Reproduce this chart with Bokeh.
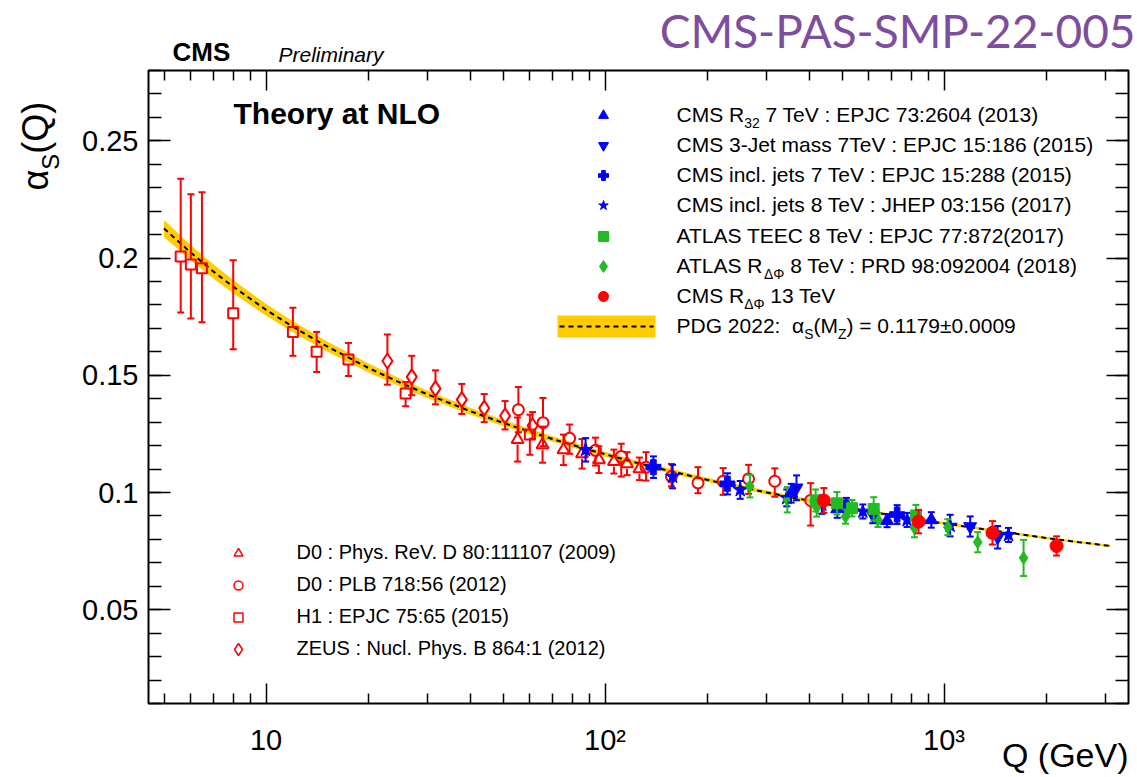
import math
from bokeh.plotting import figure
from bokeh.models import Label, LogAxis, LinearAxis, FixedTicker, CustomJSTickFormatter
from bokeh.embed import file_html
from bokeh.resources import INLINE

# ---------------- alpha_s(Q) determinations ----------------
# D0 : Phys. Rev. D 80:111107 (2009)  -- open triangles
q_d0_2009 = [55.2, 65.4, 75.4, 85.5, 95.9, 106.2, 116.1, 126.3]
a_d0_2009 = [0.1226, 0.1204, 0.1182, 0.1165, 0.1140, 0.1132, 0.1123, 0.1101]
up_d0_2009 = [0.0094, 0.0077, 0.0065, 0.0063, 0.0057, 0.0051, 0.0049, 0.0048]
dn_d0_2009 = [0.0094, 0.0077, 0.0065, 0.0063, 0.0057, 0.0051, 0.0049, 0.0048]

# D0 : PLB 718:56 (2012)  -- open circles
q_d0_2012 = [55.5, 65.6, 78.6, 93.7, 111.6, 132.1, 157.0, 188.0, 223.0, 265.0, 316.7, 404.0]
a_d0_2012 = [0.1353, 0.1298, 0.1231, 0.1180, 0.1154, 0.1108, 0.1068, 0.1041, 0.1048, 0.1058, 0.1048, 0.0966]
up_d0_2012 = [0.0097, 0.0105, 0.0059, 0.0054, 0.0054, 0.0064, 0.0054, 0.0067, 0.0056, 0.0060, 0.0055, 0.0074]
dn_d0_2012 = [0.0096, 0.0100, 0.0066, 0.0065, 0.0086, 0.0057, 0.0042, 0.0044, 0.0058, 0.0064, 0.0066, 0.0107]

# H1 : EPJC 75:65 (2015)  -- open squares
q_h1 = [5.6, 6.0, 6.47, 8.0, 12.0, 14.1, 17.5, 25.8, 60.0]
a_h1 = [0.2007, 0.1973, 0.1956, 0.1765, 0.1685, 0.1600, 0.1567, 0.1422, 0.1247]
up_h1 = [0.0331, 0.0299, 0.0325, 0.0226, 0.0103, 0.0085, 0.0071, 0.0049, 0.0085]
dn_h1 = [0.0239, 0.0231, 0.0230, 0.0154, 0.0102, 0.0086, 0.0070, 0.0054, 0.0086]

# ZEUS : Nucl. Phys. B 864:1 (2012)  -- open diamonds
q_zeus = [22.8, 26.9, 31.6, 37.8, 44.0, 50.7, 61.1]
a_zeus = [0.1561, 0.1493, 0.1443, 0.1396, 0.1360, 0.1327, 0.1285]
up_zeus = [0.0113, 0.0090, 0.0078, 0.0067, 0.0060, 0.0063, 0.0058]
dn_zeus = [0.0101, 0.0078, 0.0067, 0.0061, 0.0060, 0.0058, 0.0055]

# CMS R32 7 TeV
q_cms_r32 = [354.0, 484.0, 679.0, 917.0]
a_cms_r32 = [0.0997, 0.0930, 0.0880, 0.0883]
e_cms_r32 = [0.0040, 0.0038, 0.0028, 0.0033]

# CMS 3-jet mass 7 TeV
q_cms_m3j = [367.0, 616.0, 1194.0, 1439.0]
a_cms_m3j = [0.1020, 0.0905, 0.0855, 0.0809]
e_cms_m3j = [0.0053, 0.0036, 0.0043, 0.0048]

# CMS inclusive jets 7 TeV
q_cms_ij7 = [138.9, 229.6, 515.0, 727.0]
a_cms_ij7 = [0.1108, 0.1037, 0.0937, 0.0906]
e_cms_ij7 = [0.0046, 0.0045, 0.0040, 0.0040]

# CMS inclusive jets 8 TeV
q_cms_ij8 = [87.6, 158.2, 250.4, 343.5, 436.0, 576.0, 778.0, 1042.0, 1549.0]
a_cms_ij8 = [0.1182, 0.1068, 0.1011, 0.0977, 0.0949, 0.0919, 0.0883, 0.0859, 0.0819]
e_cms_ij8 = [0.0050, 0.0050, 0.0038, 0.0036, 0.0040, 0.0030, 0.0030, 0.0046, 0.0030]

# ATLAS TEEC 8 TeV
q_atlas_teec = [418.0, 483.0, 535.0, 620.0, 826.0]
a_atlas_teec = [0.0966, 0.0954, 0.0933, 0.0930, 0.0902]
e_atlas_teec = [0.0047, 0.0048, 0.0035, 0.0050, 0.0045]

# ATLAS R_dphi 8 TeV
q_atlas_rdphi = [267.4, 344.8, 421.0, 512.0, 638.0, 818.0, 1026.0, 1257.0, 1716.0]
a_atlas_rdphi = [0.1027, 0.0969, 0.0937, 0.0897, 0.0883, 0.0849, 0.0852, 0.0788, 0.0721]
e_atlas_rdphi = [0.0048, 0.0054, 0.0040, 0.0030, 0.0030, 0.0040, 0.0034, 0.0043, 0.0077]

# CMS R_dphi 13 TeV
q_cms_rdphi = [442.0, 841.0, 1389.0, 2147.0]
a_cms_rdphi = [0.0966, 0.0876, 0.0828, 0.0772]
e_cms_rdphi = [0.0053, 0.0050, 0.0050, 0.0041]

# PDG 2022 running coupling and its band
q_pdg = [5, 6, 7, 8, 10, 12, 15, 20, 25, 30, 40, 50, 70, 91.19, 120, 150, 200, 300,
         400, 500, 700, 1000, 1500, 2000, 2500, 3100]
a_pdg = [0.2126, 0.2023, 0.1942, 0.1878, 0.1779, 0.1707, 0.1626, 0.1532, 0.1467, 0.1418,
         0.1347, 0.1297, 0.1228, 0.1179, 0.1132, 0.1097, 0.1054, 0.1000, 0.0965, 0.0939,
         0.0903, 0.0868, 0.0831, 0.0806, 0.0788, 0.0772]
w_pdg = [0.0036, 0.0032, 0.0030, 0.0028, 0.0025, 0.0023, 0.0021, 0.0019, 0.0017, 0.0016,
         0.0014, 0.0013, 0.0012, 0.0011, 0.0010, 0.00095, 0.0009, 0.0008, 0.00075, 0.0007,
         0.00065, 0.0006, 0.00055, 0.0005, 0.0005, 0.00047]

# ---------------- page geometry ----------------
FONT = "Liberation Sans"
W, H = 1137, 777
BOX_L, BOX_R, BOX_T, BOX_B = 148, 1128, 70, 703      # plotting box on the canvas (px)
X_BOX = (4.5, 3500.0)
Y_BOX = (0.01, 0.28)

LX0, LX1 = math.log10(X_BOX[0]), math.log10(X_BOX[1])
LOG_PER_PX = (LX1 - LX0) / (BOX_R - BOX_L)
DY_PER_PX = (Y_BOX[1] - Y_BOX[0]) / (BOX_B - BOX_T)

# the canvas-wide ranges keep the box at its place, with room for the texts around it
x_full = (10 ** (LX0 - BOX_L * LOG_PER_PX), 10 ** (LX1 + (W - BOX_R) * LOG_PER_PX))
y_full = (Y_BOX[0] - (H - BOX_B) * DY_PER_PX, Y_BOX[1] + BOX_T * DY_PER_PX)

RED, BLUE, GREEN, BAND = "#ff0000", "#0000ff", "#22bb22", "#ffcc00"

p = figure(width=W, height=H, x_axis_type="log", x_range=x_full, y_range=y_full,
           x_axis_location=None, y_axis_location=None,
           output_backend="svg", toolbar_location=None,
           min_border=0, min_border_left=0, min_border_right=0, min_border_top=0, min_border_bottom=0)
p.xgrid.visible = False
p.ygrid.visible = False
p.outline_line_color = None
p.background_fill_color = "white"
p.border_fill_color = "white"


def at(X, Y):
    """canvas pixel (from top-left) -> data coordinates"""
    return 10 ** (LX0 + (X - BOX_L) * LOG_PER_PX), Y_BOX[0] + (BOX_B - Y) * DY_PER_PX


# ---------------- axes ----------------
x_major = [10, 100, 1000]
x_minor = [m * 10 ** k for k in range(0, 4) for m in range(2, 10) if X_BOX[0] <= m * 10 ** k <= X_BOX[1]]
y_major = [0.05, 0.10, 0.15, 0.20, 0.25]
y_minor = [round(0.01 * i, 2) for i in range(1, 29)]

x_fmt = CustomJSTickFormatter(code="""
    const e = Math.round(Math.log10(tick));
    return e == 1 ? "10" : "10" + ["\u2070","\u00b9","\u00b2","\u00b3","\u2074"][e];
""")
y_fmt = CustomJSTickFormatter(code="return String(Math.round(tick * 100) / 100);")
blank_fmt = CustomJSTickFormatter(code="return '';")


def style_axis(ax, major, minor, labels):
    ax.axis_line_color = None
    ax.major_tick_in = major
    ax.major_tick_out = 0
    ax.minor_tick_in = minor
    ax.minor_tick_out = 0
    ax.major_tick_line_color = "black"
    ax.minor_tick_line_color = "black"
    ax.major_tick_line_width = 1.5
    ax.minor_tick_line_width = 1.5
    ax.major_label_text_font = FONT
    ax.major_label_text_color = "black"
    ax.axis_label = None
    if not labels:
        ax.major_label_text_font_size = "0px"
        ax.major_label_standoff = 0


xb = LogAxis(fixed_location=Y_BOX[0], ticker=FixedTicker(ticks=x_major, minor_ticks=x_minor), formatter=x_fmt)
style_axis(xb, 20, 10, True)
xb.major_label_text_font_size = "29px"
xb.major_label_standoff = 20
p.add_layout(xb, "below")

xt = LogAxis(fixed_location=Y_BOX[1], ticker=FixedTicker(ticks=x_major, minor_ticks=x_minor), formatter=blank_fmt)
style_axis(xt, 20, 10, False)
p.add_layout(xt, "above")

yl = LinearAxis(fixed_location=X_BOX[0], ticker=FixedTicker(ticks=y_major, minor_ticks=y_minor), formatter=y_fmt)
style_axis(yl, 22, 13, True)
yl.major_label_text_font_size = "29px"
yl.major_label_standoff = 10
p.add_layout(yl, "left")

yr = LinearAxis(fixed_location=X_BOX[1], ticker=FixedTicker(ticks=y_major, minor_ticks=y_minor), formatter=blank_fmt)
style_axis(yr, 22, 13, False)
p.add_layout(yr, "right")

# frame around the plotting box
p.quad(left=[X_BOX[0]], right=[X_BOX[1]], bottom=[Y_BOX[0]], top=[Y_BOX[1]],
       fill_color=None, line_color="black", line_width=2)

# Arial / Liberation Sans advance widths (1/1000 em)
ADV = {" ": 278, "(": 333, ")": 333, "-": 333, ".": 278, ":": 278, "=": 584, "\u00b1": 549,
       "\u03b1": 578, "\u0394": 668, "\u03a6": 797}
ADV.update({d: 556 for d in "0123456789"})
ADV.update(dict(zip("ABCDEFGHIJKLMNOPQRSTUVWXYZ",
                    [667, 667, 722, 722, 667, 611, 778, 722, 278, 500, 667, 556, 833,
                     722, 778, 667, 778, 722, 667, 611, 722, 667, 944, 667, 667, 611])))
ADV.update(dict(zip("abcdefghijklmnopqrstuvwxyz",
                    [556, 556, 500, 556, 556, 278, 556, 556, 222, 222, 500, 222, 833,
                     556, 556, 556, 556, 333, 500, 278, 556, 500, 722, 500, 500, 500])))

BASE_FIX = 0.43   # raise so that the glyph baseline sits on the requested line


def text_width(s, size):
    return sum(ADV.get(c, 556) for c in s) * size / 1000.0


def rich_text(parts, X, Y, size, color="black", rotated=False, style="normal", font=FONT,
              align="left"):
    """Text made of (string, is_subscript) pieces; (X, Y) is the baseline start on the canvas."""
    pos = 0.0
    for txt, sub in parts:
        fs = size * 0.66 if sub else size
        shift = (-0.28 * size if sub else 0.0) + BASE_FIX * fs
        lead = len(txt) - len(txt.lstrip(" "))
        body = txt.strip(" ")
        trail = len(txt) - lead - len(body)
        pos += text_width(" " * lead, fs)
        if rotated:
            x, y = X - shift, (H - Y) + pos
        else:
            x, y = X + pos, (H - Y) + shift
        p.add_layout(Label(x=x, y=y, x_units="screen", y_units="screen", text=body,
                           angle=math.pi / 2 if rotated else 0.0,
                           text_font=font, text_font_size=f"{fs:.1f}px", text_font_style=style,
                           text_color=color, text_align=align, text_baseline="alphabetic"))
        pos += text_width(body, fs) + text_width(" " * trail, fs)


# ---------------- theory band ----------------
p.varea(x=q_pdg, y1=[a - w for a, w in zip(a_pdg, w_pdg)], y2=[a + w for a, w in zip(a_pdg, w_pdg)],
        fill_color=BAND)
p.line(q_pdg, a_pdg, line_color="black", line_width=2, line_dash="5 4")


# ---------------- data points ----------------
def draw_series(q, a, up, dn, marker, color, size, filled, gap_px=0.0):
    gap = 0.0 if filled else gap_px * DY_PER_PX
    lo_end = [ai - min(gap, d) for ai, d in zip(a, dn)]
    hi_end = [ai + min(gap, u) for ai, u in zip(a, up)]
    lows = [ai - d for ai, d in zip(a, dn)]
    highs = [ai + u for ai, u in zip(a, up)]
    p.segment(x0=q, y0=lows, x1=q, y1=lo_end, line_color=color, line_width=2)
    p.segment(x0=q, y0=hi_end, x1=q, y1=highs, line_color=color, line_width=2)
    p.scatter(q + q, lows + highs, marker="dash", size=7, line_color=color, line_width=2)
    p.scatter(q, a, marker=marker, size=size, line_color=color, line_width=2 if not filled else 1,
              fill_color=color if filled else None)


draw_series(q_h1, a_h1, up_h1, dn_h1, "square", RED, 10, False, 5)
draw_series(q_zeus, a_zeus, up_zeus, dn_zeus, "diamond", RED, 15, False, 7)
draw_series(q_d0_2009, a_d0_2009, up_d0_2009, dn_d0_2009, "triangle", RED, 12, False, 5)
draw_series(q_d0_2012, a_d0_2012, up_d0_2012, dn_d0_2012, "circle", RED, 11, False, 5.5)
draw_series(q_cms_ij8, a_cms_ij8, e_cms_ij8, e_cms_ij8, "star", BLUE, 15, True)
draw_series(q_cms_ij7, a_cms_ij7, e_cms_ij7, e_cms_ij7, "plus", BLUE, 15, True)
draw_series(q_atlas_rdphi, a_atlas_rdphi, e_atlas_rdphi, e_atlas_rdphi, "diamond", GREEN, 13, True)
draw_series(q_cms_r32, a_cms_r32, e_cms_r32, e_cms_r32, "triangle", BLUE, 13, True)
draw_series(q_cms_m3j, a_cms_m3j, e_cms_m3j, e_cms_m3j, "inverted_triangle", BLUE, 13, True)
draw_series(q_atlas_teec, a_atlas_teec, e_atlas_teec, e_atlas_teec, "square", GREEN, 11, True)
draw_series(q_cms_rdphi, a_cms_rdphi, e_cms_rdphi, e_cms_rdphi, "circle", RED, 13, True)

# ---------------- legends ----------------
top_legend = [
    ("triangle", BLUE, [("CMS R", 0), ("32", 1), (" 7 TeV : EPJC 73:2604 (2013)", 0)]),
    ("inverted_triangle", BLUE, [("CMS 3-Jet mass 7TeV : EPJC 15:186 (2015)", 0)]),
    ("plus", BLUE, [("CMS incl. jets 7 TeV : EPJC 15:288 (2015)", 0)]),
    ("star", BLUE, [("CMS incl. jets 8 TeV : JHEP 03:156 (2017)", 0)]),
    ("square", GREEN, [("ATLAS TEEC 8 TeV : EPJC 77:872(2017)", 0)]),
    ("diamond", GREEN, [("ATLAS R", 0), ("\u0394\u03a6", 1), (" 8 TeV : PRD 98:092004 (2018)", 0)]),
    ("circle", RED, [("CMS R", 0), ("\u0394\u03a6", 1), (" 13 TeV", 0)]),
]
TOP_SIZE = 21
top_rows = [115, 145, 175, 205, 236, 266, 296]
for (marker, color, parts), Y in zip(top_legend, top_rows):
    mx, my = at(603, Y)
    p.scatter([mx], [my], marker=marker, size=10 if marker != "diamond" else 12,
              fill_color=color, line_color=color)
    rich_text(parts, 676, Y + 0.36 * TOP_SIZE, TOP_SIZE)

# PDG entry
bx0, by0 = at(557, 337)
bx1, by1 = at(655, 315)
p.quad(left=[bx0], right=[bx1], bottom=[by0], top=[by1], fill_color=BAND, line_color=None)
lx0, ly = at(559, 326)
lx1, _ = at(653, 326)
p.line([lx0, lx1], [ly, ly], line_color="black", line_width=2, line_dash="5 4")
rich_text([("PDG 2022:", 0), ("  \u03b1", 0), ("S", 1), ("(M", 0), ("Z", 1), (") = 0.1179\u00b10.0009", 0)],
          676, 326 + 0.36 * TOP_SIZE, TOP_SIZE)

bottom_legend = [
    ("triangle", "D0 : Phys. ReV. D 80:111107 (2009)"),
    ("circle", "D0 : PLB 718:56 (2012)"),
    ("square", "H1 : EPJC 75:65 (2015)"),
    ("diamond", "ZEUS : Nucl. Phys. B 864:1 (2012)"),
]
BOT_SIZE = 20
bottom_rows = [553, 585, 617, 649]
for (marker, label), Y in zip(bottom_legend, bottom_rows):
    mx, my = at(238, Y)
    p.scatter([mx], [my], marker=marker, size=9 if marker != "diamond" else 12,
              fill_color=None, line_color=RED, line_width=1.5)
    rich_text([(label, 0)], 296, Y + 0.36 * BOT_SIZE, BOT_SIZE)

# ---------------- texts ----------------
rich_text([("Theory at NLO", 0)], 233, 126, 30, style="bold")
rich_text([("CMS", 0)], 172, 63, 26, style="bold")
rich_text([("Preliminary", 0)], 278, 63, 21, style="italic")
rich_text([("CMS-PAS-SMP-22-005", 0)], 1135, 50, 46, color="#7d4e9f", font="Lato", align="right")

# axis titles
rich_text([("\u03b1", 0), ("S", 1), ("(Q)", 0)], 50, 190, 36, rotated=True)
rich_text([("Q (GeV)", 0)], 1128, 769, 34, align="right")

open("out.html", "w").write(file_html(p, INLINE))
